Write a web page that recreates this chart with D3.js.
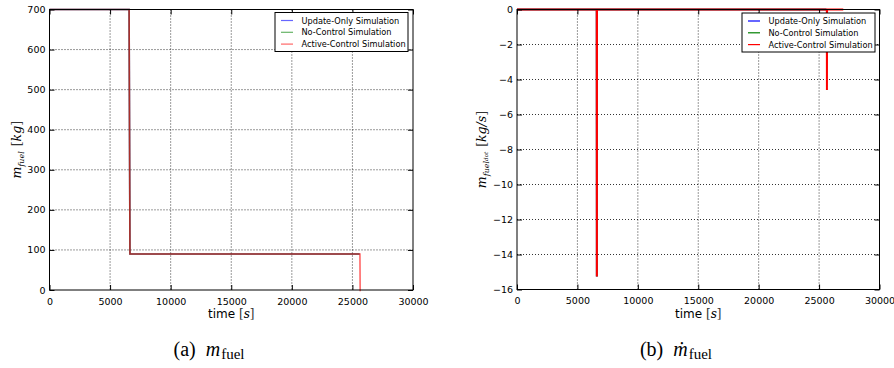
<!DOCTYPE html>
<html>
<head>
<meta charset="utf-8">
<script src="https://cdn.jsdelivr.net/npm/d3@7"></script>
<style>
  html, body { margin: 0; padding: 0; background: #fff; }
  svg { display: block; }
  .tick text { font-family: "DejaVu Sans", sans-serif; }
</style>
</head>
<body>
<svg id="fig" width="894" height="368"></svg>
<script>
// ---- data: fuel mass (kg) over time (s) ----
const timeMassUpdateOnly = [0, 6570, 6640, 25600];
const massUpdateOnly     = [700, 700, 90, 90];
const timeMassNoControl  = [0, 6570, 6640, 25600];
const massNoControl      = [700, 700, 90, 90];
const timeMassActive     = [0, 6570, 6640, 25620, 25640];
const massActive         = [700, 700, 90, 90, -3];

// ---- data: fuel mass rate (kg/s) over time (s) ----
const timeRateUpdateOnly = [0, 6600, 6610, 6620, 25600];
const rateUpdateOnly     = [0, 0, -15.25, 0, 0];
const timeRateNoControl  = [0, 6600, 6610, 6620, 25600];
const rateNoControl      = [0, 0, -15.25, 0, 0];
const timeRateActive     = [0, 6600, 6610, 6620, 25640, 25650, 25660, 27000];
const rateActive         = [0, 0, -15.25, 0, 0, -4.6, 0, 0];

// ---- axis ticks and labels ----
const timeTicks = [0, 5000, 10000, 15000, 20000, 25000, 30000];
const massTicks = [0, 100, 200, 300, 400, 500, 600, 700];
const rateTicks = [-16, -14, -12, -10, -8, -6, -4, -2, 0];
const seriesNames  = ["Update-Only Simulation", "No-Control Simulation", "Active-Control Simulation"];
const seriesColors = ["#0000ff", "#008000", "#ff0000"];

const svg = d3.select("#fig");

function panel(opts) {
  const g = svg.append("g");
  const x = d3.scaleLinear().domain([0, 30000]).range([opts.left, opts.right]);
  const y = d3.scaleLinear().domain(opts.yDomain).range([opts.bottom, opts.top]);

  // dotted grid
  const grid = g.append("g").attr("stroke", "#000").attr("stroke-width", 0.8)
    .attr("stroke-dasharray", "1,2");
  timeTicks.slice(1, -1).forEach(t => grid.append("line")
    .attr("x1", x(t)).attr("x2", x(t)).attr("y1", opts.top).attr("y2", opts.bottom));
  opts.yTicks.slice(1, -1).forEach(v => grid.append("line")
    .attr("x1", opts.left).attr("x2", opts.right).attr("y1", y(v)).attr("y2", y(v)));

  // series (drawn unclipped so the final drop reaches the lower spine)
  const line = d3.line().x(d => x(d[0])).y(d => y(d[1]));
  opts.series.forEach((s, i) => {
    const pts = s.t.map((t, k) => [t, s.v[k]]);
    g.append("path").datum(pts).attr("d", line)
      .attr("fill", "none").attr("stroke", seriesColors[i])
      .attr("stroke-width", opts.lw).attr("stroke-opacity", opts.alpha[i])
      .attr("stroke-linejoin", "miter");
  });

  // axes with inward ticks on all four sides
  const fmt = d => d3.format("d")(d).replace("-", "\u2212");
  const ax = (axis, tr) => {
    const a = g.append("g").attr("transform", tr).call(axis);
    a.select(".domain").remove();
    a.selectAll(".tick line").attr("stroke", "#000").attr("stroke-width", 1);
    a.selectAll(".tick text").attr("fill", "#000").attr("font-size", "9.5px");
    return a;
  };
  ax(d3.axisBottom(x).tickValues(timeTicks).tickFormat(fmt).tickSizeInner(-5).tickPadding(8),
     `translate(0,${opts.bottom})`);
  ax(d3.axisTop(x).tickValues(timeTicks).tickFormat("").tickSizeInner(-5), `translate(0,${opts.top})`);
  ax(d3.axisLeft(y).tickValues(opts.yTicks).tickFormat(fmt).tickSizeInner(-5).tickPadding(4),
     `translate(${opts.left},0)`);
  ax(d3.axisRight(y).tickValues(opts.yTicks).tickFormat("").tickSizeInner(-5), `translate(${opts.right},0)`);

  g.append("rect").attr("x", opts.left).attr("y", opts.top)
    .attr("width", opts.right - opts.left).attr("height", opts.bottom - opts.top)
    .attr("fill", "none").attr("stroke", "#000").attr("stroke-width", 1);

  // x label
  const xl = g.append("text").attr("x", (opts.left + opts.right) / 2).attr("y", opts.bottom + 28)
    .attr("text-anchor", "middle").attr("font-size", "12px")
    .attr("font-family", "DejaVu Sans, sans-serif");
  xl.append("tspan").text("time ");
  xl.append("tspan").attr("font-family", "DejaVu Serif, serif").attr("fill", "#333").text("[");
  xl.append("tspan").attr("font-family", "DejaVu Serif, serif").attr("font-style", "italic").text("s");
  xl.append("tspan").attr("font-family", "DejaVu Serif, serif").attr("fill", "#333").text("]");

  // y label
  const cy = (opts.top + opts.bottom) / 2;
  const yl = g.append("text").attr("transform", `translate(${opts.yLabelX},${cy}) rotate(-90)`)
    .attr("text-anchor", "middle").attr("font-size", "12.5px")
    .attr("font-family", "DejaVu Serif, serif").attr("font-style", "italic");
  opts.yLabel(yl);

  // legend
  const lg = g.append("g").attr("transform", `translate(${opts.legX},${opts.legY})`);
  lg.append("rect").attr("width", opts.legW).attr("height", 39)
    .attr("fill", "#fff").attr("stroke", "#000").attr("stroke-width", 1);
  seriesNames.forEach((n, i) => {
    const yy = 8 + i * 11.8;
    lg.append("line").attr("x1", 6).attr("x2", 18).attr("y1", yy).attr("y2", yy)
      .attr("stroke", seriesColors[i]).attr("stroke-opacity", opts.legAlpha).attr("stroke-width", 1.2);
    lg.append("text").attr("x", 26.5).attr("y", yy + 3).attr("font-size", "8.2px")
      .attr("font-family", "DejaVu Sans, sans-serif").text(n);
  });
}

function sub(t, text, size, shift) {
  t.append("tspan").attr("font-size", size).attr("baseline-shift", shift).text(text);
}

panel({
  left: 49.5, right: 413, top: 9.5, bottom: 290,
  yDomain: [0, 700], yTicks: massTicks, lw: 1.6, alpha: [0.6, 0.6, 0.6], legAlpha: 0.6,
  series: [
    { t: timeMassUpdateOnly, v: massUpdateOnly },
    { t: timeMassNoControl, v: massNoControl },
    { t: timeMassActive, v: massActive }
  ],
  yLabelX: 21,
  yLabel: t => {
    t.append("tspan").text("m");
    sub(t, "fuel", "8px", "-3");
    t.append("tspan").attr("font-style", "normal").attr("fill", "#333").attr("dx", 5).text("[");
    t.append("tspan").text("kg");
    t.append("tspan").attr("font-style", "normal").attr("fill", "#333").text("]");
  },
  legX: 275, legY: 12.5, legW: 133
});

panel({
  left: 517, right: 879.5, top: 9.5, bottom: 289.5,
  yDomain: [-16, 0], yTicks: rateTicks, lw: 2, alpha: [0.6, 0.6, 1], legAlpha: 1,
  series: [
    { t: timeRateUpdateOnly, v: rateUpdateOnly },
    { t: timeRateNoControl, v: rateNoControl },
    { t: timeRateActive, v: rateActive }
  ],
  yLabelX: 486,
  yLabel: t => {
    t.append("tspan").text("m");
    sub(t, "fuel", "8px", "-3");
    sub(t, "dot", "5.5px", "-2");
    t.append("tspan").attr("font-style", "normal").attr("fill", "#333").attr("dx", 5).text("[");
    t.append("tspan").text("kg/s");
    t.append("tspan").attr("font-style", "normal").attr("fill", "#333").text("]");
  },
  legX: 742, legY: 13, legW: 133
});

// sub-figure captions
function caption(cx, mark, letter) {
  const t = svg.append("text").attr("x", cx).attr("y", 356).attr("text-anchor", "middle")
    .attr("font-family", "Liberation Serif, serif").attr("font-size", "20px");
  t.append("tspan").text(`(${letter})`);
  t.append("tspan").attr("font-style", "italic").attr("dx", 10).text(mark);
  t.append("tspan").attr("font-size", "15px").attr("dx", 1).attr("dy", 3).text("fuel");
}
caption(209, "m", "a");
caption(676, "\u1E41", "b");
</script>
</body>
</html>
